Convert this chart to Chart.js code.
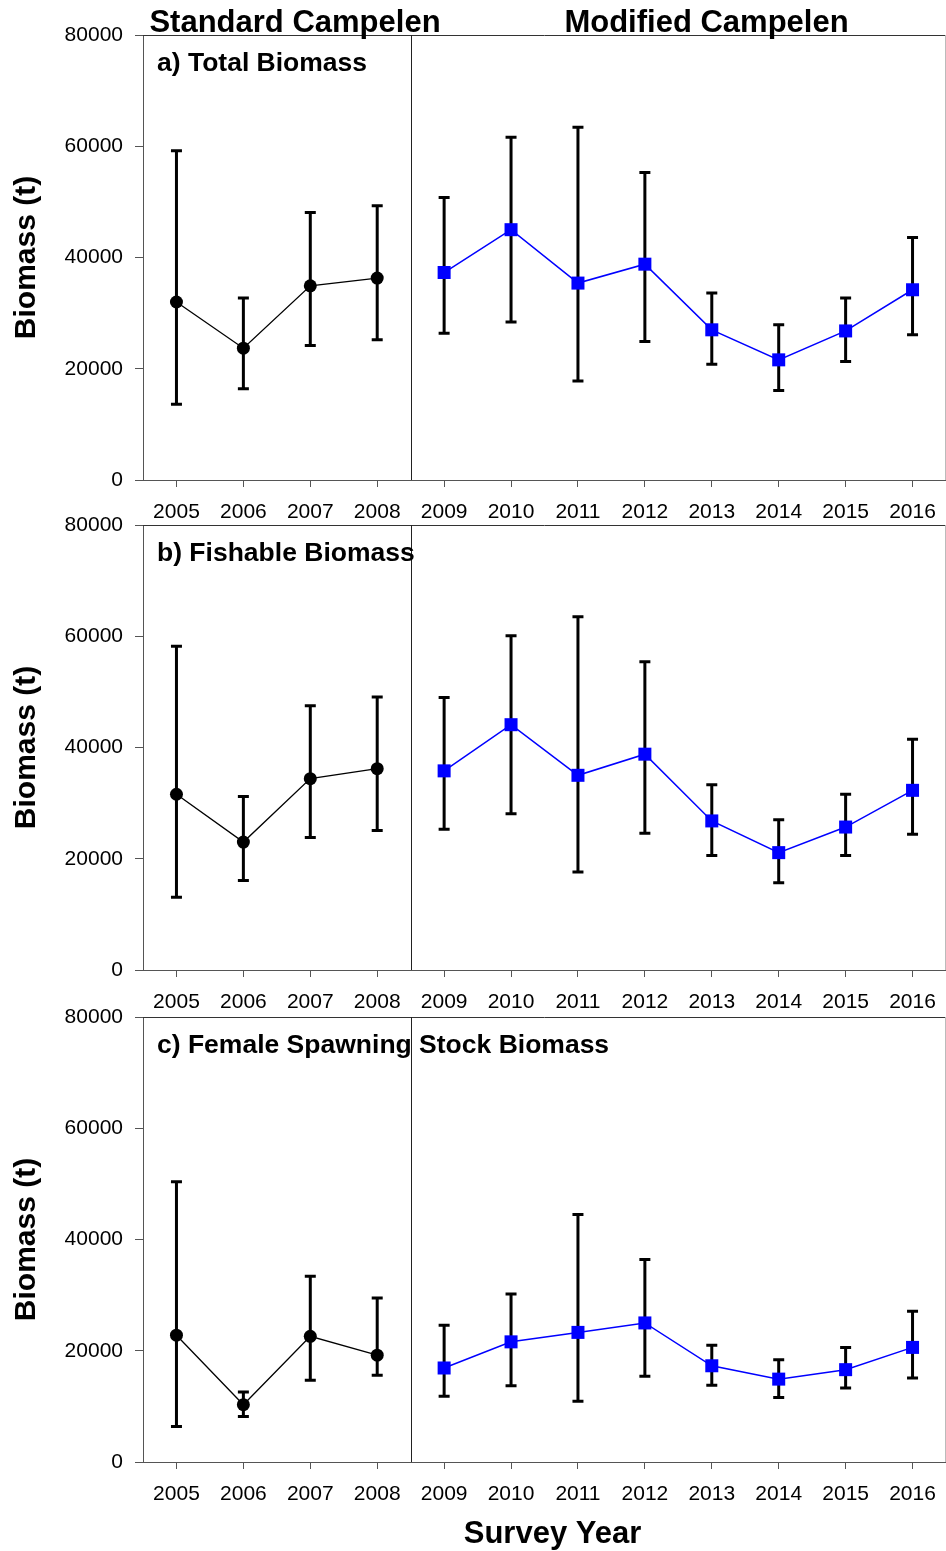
<!DOCTYPE html>
<html>
<head>
<meta charset="utf-8">
<script src="https://cdn.jsdelivr.net/npm/chart.js@4.4.1/dist/chart.umd.min.js"></script>
<style>
  html, body { margin: 0; padding: 0; background: #fff; }
  #wrap { position: relative; width: 946px; height: 1551px; overflow: hidden; background: #fff; }
  #wrap canvas { position: absolute; left: 0; }
</style>
</head>
<body>
<div id="wrap">
  <canvas id="panelA" width="946" height="530" style="top:0px"></canvas>
  <canvas id="panelB" width="946" height="530" style="top:490px"></canvas>
  <canvas id="panelC" width="946" height="569" style="top:982px"></canvas>
</div>
<script>
// Survey years: Standard Campelen (2005-2008) and Modified Campelen (2009-2016)
const stdYears = [2005, 2006, 2007, 2008];
const modYears = [2009, 2010, 2011, 2012, 2013, 2014, 2015, 2016];
const yearTicks = [2005, 2006, 2007, 2008, 2009, 2010, 2011, 2012, 2013, 2014, 2015, 2016];
const biomassTicks = [0, 20000, 40000, 60000, 80000];

// a) Total biomass (t): estimate with lower/upper confidence limits
const totalStd   = [32000, 23700, 34900, 36300];
const totalStdLo = [13600, 16400, 24200, 25200];
const totalStdHi = [59200, 32700, 48100, 49300];
const totalMod   = [37300, 45000, 35400, 38800, 27000, 21600, 26800, 34200];
const totalModLo = [26400, 28400, 17800, 24900, 20800, 16100, 21300, 26100];
const totalModHi = [50800, 61600, 63400, 55300, 33600, 27900, 32700, 43600];

// b) Fishable biomass (t)
const fishStd   = [31600, 23000, 34400, 36200];
const fishStdLo = [13100, 16100, 23800, 25100];
const fishStdHi = [58200, 31200, 47500, 49100];
const fishMod   = [35800, 44100, 35000, 38800, 26800, 21100, 25700, 32300];
const fishModLo = [25300, 28100, 17600, 24600, 20600, 15700, 20600, 24400];
const fishModHi = [49000, 60100, 63500, 55400, 33300, 27000, 31600, 41500];

// c) Female spawning stock biomass (t)
const fsbStd   = [22800, 10300, 22600, 19200];
const fsbStdLo = [6400, 8200, 14700, 15600];
const fsbStdHi = [50400, 12600, 33400, 29500];
const fsbMod   = [16900, 21600, 23300, 25000, 17300, 14900, 16600, 20600];
const fsbModLo = [11800, 13700, 10900, 15400, 13800, 11600, 13300, 15100];
const fsbModHi = [24600, 30200, 44500, 36400, 21000, 18400, 20600, 27100];

Chart.defaults.font.family = '"Liberation Sans", Arial, sans-serif';
Chart.defaults.color = '#000';

const BOLD = '"Liberation Sans", Arial, sans-serif';

// Frame, gear divider, error bars and panel annotations
const panelPlugin = {
  id: 'panelDecor',
  beforeDatasetsDraw(chart) {
    const { ctx, chartArea: a, scales: { x, y } } = chart;
    ctx.save();
    ctx.lineWidth = 1;
    // top frame line
    ctx.strokeStyle = '#333';
    ctx.beginPath();
    ctx.moveTo(a.left, a.top + 0.5);
    ctx.lineTo(a.right, a.top + 0.5);
    ctx.stroke();
    // right frame line
    ctx.strokeStyle = '#bbb';
    ctx.beginPath();
    ctx.moveTo(a.right - 0.5, a.top);
    ctx.lineTo(a.right - 0.5, a.bottom);
    ctx.stroke();
    // divider between the two trawl configurations
    const xd = Math.round(x.getPixelForValue(2008.5)) + 0.5;
    ctx.strokeStyle = '#222';
    ctx.beginPath();
    ctx.moveTo(xd, a.top);
    ctx.lineTo(xd, a.bottom);
    ctx.stroke();
    // error bars
    ctx.strokeStyle = '#000';
    ctx.lineWidth = 3;
    ctx.lineCap = 'butt';
    const cap = 5.5;
    chart.data.datasets.forEach(ds => {
      ds.data.forEach((p, i) => {
        const px = x.getPixelForValue(p.x);
        const lo = y.getPixelForValue(ds.lo[i]);
        const hi = y.getPixelForValue(ds.hi[i]);
        ctx.beginPath();
        ctx.moveTo(px, lo); ctx.lineTo(px, hi);
        ctx.moveTo(px - cap, lo); ctx.lineTo(px + cap, lo);
        ctx.moveTo(px - cap, hi); ctx.lineTo(px + cap, hi);
        ctx.stroke();
      });
    });
    ctx.restore();
  },
  afterDraw(chart, args, opts) {
    const { ctx, chartArea: a } = chart;
    ctx.save();
    ctx.fillStyle = '#000';
    ctx.textBaseline = 'alphabetic';
    ctx.textAlign = 'left';
    ctx.font = 'bold 26.5px ' + BOLD;
    ctx.fillText(opts.label, a.left + 14, a.top + 36);
    if (opts.headers) {
      ctx.font = 'bold 31px ' + BOLD;
      ctx.textAlign = 'center';
      ctx.fillText('Standard Campelen', 295, 32);
      ctx.fillText('Modified Campelen', 706.5, 32);
    }
    if (opts.footer) {
      ctx.font = 'bold 31px ' + BOLD;
      ctx.textAlign = 'center';
      ctx.fillText('Survey Year', 552.5, a.bottom + 81);
    }
    ctx.restore();
  }
};

function pts(years, vals) {
  return years.map((yr, i) => ({ x: yr, y: vals[i] }));
}

function makePanel(id, label, std, stdLo, stdHi, mod, modLo, modHi, extra) {
  const canvas = document.getElementById(id);
  const bottomPad = canvas.height - 35 - 445 - 50;
  return new Chart(canvas, {
    type: 'line',
    data: {
      datasets: [
        {
          label: 'Standard Campelen',
          data: pts(stdYears, std),
          lo: stdLo, hi: stdHi,
          borderColor: '#000',
          borderWidth: 1.3,
          pointStyle: 'circle',
          pointRadius: 6.5,
          pointBackgroundColor: '#000',
          pointBorderWidth: 0,
          tension: 0,
          fill: false
        },
        {
          label: 'Modified Campelen',
          data: pts(modYears, mod),
          lo: modLo, hi: modHi,
          borderColor: '#0000ff',
          borderWidth: 1.5,
          pointStyle: 'rect',
          pointRadius: 9.2,
          pointBackgroundColor: '#0000ff',
          pointBorderWidth: 0,
          tension: 0,
          fill: false
        }
      ]
    },
    options: {
      responsive: false,
      animation: false,
      layout: { padding: { top: 35, left: 0, right: 0, bottom: bottomPad }, autoPadding: false },
      plugins: {
        legend: { display: false },
        tooltip: { enabled: false },
        panelDecor: Object.assign({ label: label }, extra)
      },
      scales: {
        x: {
          type: 'linear',
          min: 2004.5,
          max: 2016.5,
          afterBuildTicks: s => { s.ticks = yearTicks.map(v => ({ value: v })); },
          afterFit: s => { s.height = 50; s.paddingLeft = 0; s.paddingRight = 0; },
          ticks: { font: { size: 21 }, padding: 13, maxRotation: 0, autoSkip: false, callback: v => String(v) },
          grid: { drawOnChartArea: false, drawTicks: true, tickLength: 7, color: '#555' },
          border: { display: true, color: '#555', width: 1 }
        },
        y: {
          type: 'linear',
          min: 0,
          max: 80000,
          afterBuildTicks: s => { s.ticks = biomassTicks.map(v => ({ value: v })); },
          afterFit: s => { s.width = 143; s.paddingTop = 0; s.paddingBottom = 0; },
          ticks: { font: { size: 21 }, padding: 12, callback: v => String(v) },
          grid: { drawOnChartArea: false, drawTicks: true, tickLength: 8, color: '#555' },
          border: { display: true, color: '#555', width: 1 },
          title: {
            display: true,
            text: 'Biomass (t)',
            font: { size: 30, weight: 'bold' },
            padding: { top: 9, bottom: 0 }
          }
        }
      }
    },
    plugins: [panelPlugin]
  });
}

makePanel('panelA', 'a) Total Biomass', totalStd, totalStdLo, totalStdHi, totalMod, totalModLo, totalModHi, { headers: true });
makePanel('panelB', 'b) Fishable Biomass', fishStd, fishStdLo, fishStdHi, fishMod, fishModLo, fishModHi, {});
makePanel('panelC', 'c) Female Spawning Stock Biomass', fsbStd, fsbStdLo, fsbStdHi, fsbMod, fsbModLo, fsbModHi, { footer: true });
</script>
</body>
</html>
